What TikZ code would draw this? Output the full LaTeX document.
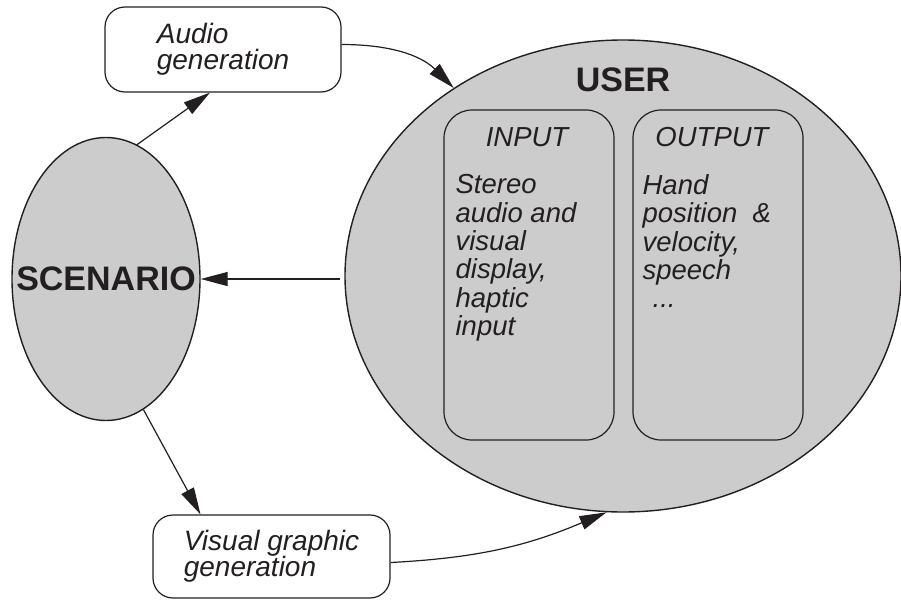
\documentclass[tikz,border=0pt]{standalone}
\usepackage{fontspec}
\setmainfont{Liberation Sans}
\usetikzlibrary{shapes.geometric, arrows.meta, positioning, calc}
\definecolor{ink}{HTML}{231F20}
\tikzstyle{arrow} = [line width=1.2pt,->,>={Triangle[length=27pt,width=14pt]},draw=ink]
\tikzstyle{blob} = [ellipse, draw=ink, line width=1.4pt, fill=black!20, inner sep=0pt]
\tikzstyle{genbox} = [rectangle, rounded corners=20pt, draw=ink, line width=1.2pt, fill=white, minimum width=236pt, minimum height=85pt, align=left, text=ink, font=\fontsize{28}{26.5}\selectfont\itshape]
\tikzstyle{iobox} = [rectangle, rounded corners=28pt, draw=ink, line width=1.2pt, minimum width=170pt, minimum height=330pt]
\tikzstyle{bigtitle} = [text=ink, font=\fontsize{34}{34}\selectfont\bfseries, inner sep=0pt]
\tikzstyle{iotitle} = [text=ink, font=\fontsize{27.5}{27.5}\selectfont\itshape, inner sep=0pt]
\tikzstyle{iobody} = [text=ink, font=\fontsize{27.5}{28.3}\selectfont\itshape, align=left, inner sep=0pt]

\begin{document}
\begin{tikzpicture}[x=1pt, y=-1pt]
        \useasboundingbox (0,0) rectangle (901,599);

        \node (scenario) [blob, minimum width=188pt, minimum height=283pt] at (106,279) {};
        \node (scenariotxt) [bigtitle] at (scenario.center) {SCENARIO};
        \node (user) [blob, minimum width=556pt, minimum height=472pt] at (623,276) {};
        \node (usertxt) [bigtitle] at (623,80) {USER};

        % input / output panels inside the user
        \node (input) [iobox] at (529,275) {};
        \node (output) [iobox] at (718,275) {};
        \node (inputtxt) [iotitle, anchor=base] at ([xshift=-2pt,yshift=-37pt]input.north) {INPUT};
        \node (outputtxt) [iotitle, anchor=base] at ([xshift=-6pt,yshift=-37pt]output.north) {OUTPUT};
        \node (inputbody) [iobody, anchor=north west] at ([xshift=12pt,yshift=-65pt]input.north west)
            {Stereo\\audio and\\visual\\display,\\haptic\\input};
        \node (outputbody) [iobody, anchor=north west] at ([xshift=10pt,yshift=-65pt]output.north west)
            {Hand\\position\ \ \&\\velocity,\\speech\\\hspace*{10pt}...};

        \node (audio) [genbox] at (223,49.5) {Audio\\generation};
        \node (visual) [genbox, minimum width=237pt, minimum height=83pt] at (271.5,556.5) {Visual graphic\\generation};

        \draw[arrow] (scenario.77) -- ([xshift=-13pt]audio.south);
        \draw[arrow] ([yshift=5pt]audio.east) to[out=0, in=135] (user.132);
        \draw[arrow] ($(scenario.east -| user.west)+(-4,0)$) -- (scenario.east);
        \draw[arrow] (scenario.-74) -- ([xshift=-71pt]visual.north);
        \draw[arrow] ([yshift=-6pt]visual.east) to[out=3, in=203] (user.266);

\end{tikzpicture}
\end{document}
